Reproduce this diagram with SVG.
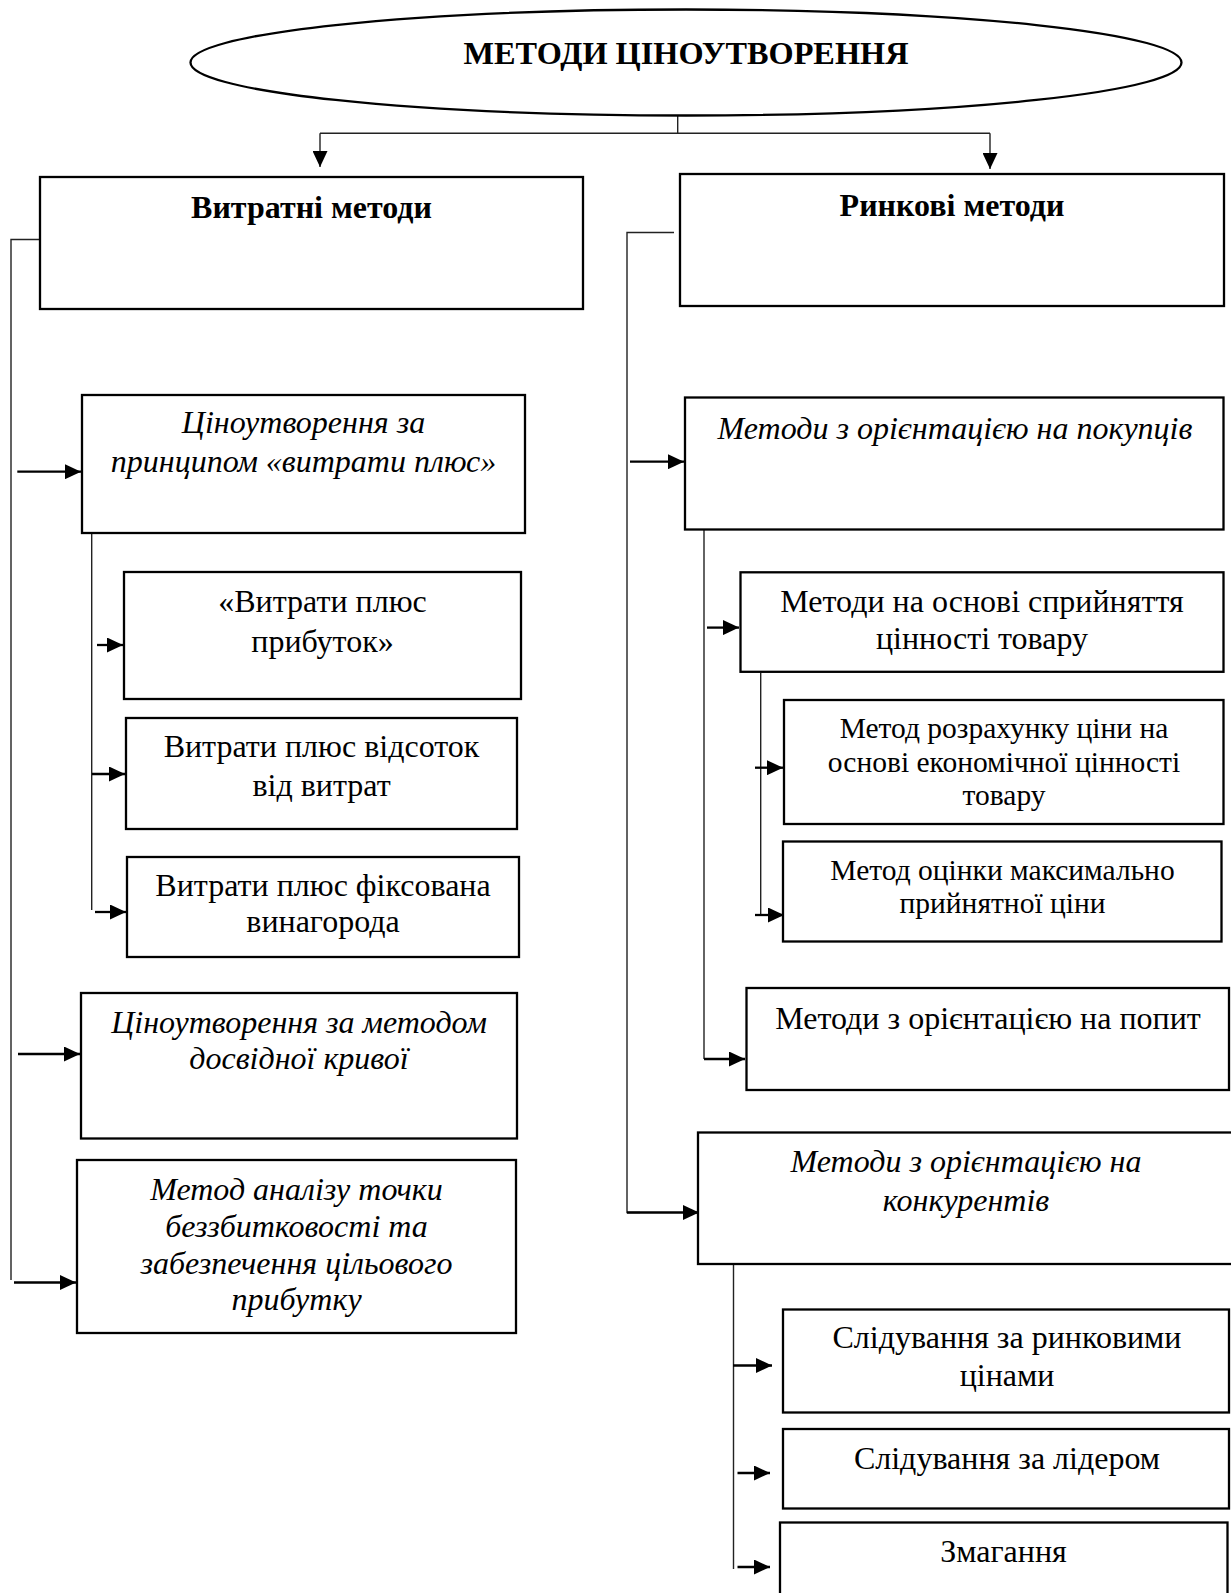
<svg xmlns="http://www.w3.org/2000/svg" width="1231" height="1593" viewBox="0 0 1231 1593">
<style>
  .box{fill:#fff;stroke:#000;stroke-width:2.3}
  .ln{fill:none;stroke:#222;stroke-width:1.4}
  .ar{fill:none;stroke:#000;stroke-width:2.3}
  .t{font-family:"Liberation Serif","Times New Roman",serif;font-size:32px;fill:#000;text-anchor:middle}
  .b{font-weight:bold}
  .i{font-style:italic}
  .s{font-size:29.5px}
  .ttl{font-size:32.3px}
</style>
<defs>
  <marker id="ah" viewBox="0 0 16 15" refX="16" refY="7.5" markerWidth="16" markerHeight="15" markerUnits="userSpaceOnUse" orient="auto">
    <path d="M0,0 L16,7.5 L0,15 z" fill="#000"/>
  </marker>
</defs>
<rect width="1231" height="1593" fill="#fff"/>

<g id="connectors">
  <path class="ln" d="M677.7,116 V133.3 M320,133.3 H990"/>
  <path class="ln" d="M320,133.3 V167" marker-end="url(#ah)"/>
  <path class="ln" d="M990,133.3 V169" marker-end="url(#ah)"/>
  <!-- left column -->
  <path class="ln" d="M48,239.5 H11 V1280"/>
  <path class="ar" d="M17.3,471.7 H81" marker-end="url(#ah)"/>
  <path class="ar" d="M18,1054 H80" marker-end="url(#ah)"/>
  <path class="ar" d="M14,1282.5 H76" marker-end="url(#ah)"/>
  <path class="ln" d="M91.7,533 V910"/>
  <path class="ar" d="M97,645 H123" marker-end="url(#ah)"/>
  <path class="ar" d="M92,774 H125" marker-end="url(#ah)"/>
  <path class="ar" d="M95,912 H126" marker-end="url(#ah)"/>
  <!-- right column -->
  <path class="ln" d="M674,232.5 H627 V1212.5 H640"/>
  <path class="ar" d="M627,1212.5 H699" marker-end="url(#ah)"/>
  <path class="ar" d="M630,461.7 H684" marker-end="url(#ah)"/>
  <path class="ln" d="M704,530 V1059"/>
  <path class="ar" d="M707,627.6 H739" marker-end="url(#ah)"/>
  <path class="ar" d="M704,1059 H745" marker-end="url(#ah)"/>
  <path class="ln" d="M760.7,673 V916"/>
  <path class="ar" d="M755,767.7 H783" marker-end="url(#ah)"/>
  <path class="ar" d="M755,915 H784" marker-end="url(#ah)"/>
  <path class="ln" d="M733.5,1264 V1569"/>
  <path class="ar" d="M733,1365.5 H772" marker-end="url(#ah)"/>
  <path class="ar" d="M737.5,1473 H770" marker-end="url(#ah)"/>
  <path class="ar" d="M737.5,1567 H770" marker-end="url(#ah)"/>
</g>

<g id="root">
  <ellipse cx="686" cy="62.5" rx="495.5" ry="53" fill="#fff" stroke="#000" stroke-width="2.3"/>
  <text class="t b ttl" x="686" y="64">МЕТОДИ ЦІНОУТВОРЕННЯ</text>
</g>

<g id="cost">
  <rect class="box" x="40" y="177" width="543" height="132"/>
  <text class="t b" x="311.5" y="218">Витратні методи</text>
</g>
<g id="market">
  <rect class="box" x="680" y="174" width="544" height="132"/>
  <text class="t b" x="952" y="216">Ринкові методи</text>
</g>

<g id="costplus">
  <rect class="box" x="82" y="395" width="443" height="138"/>
  <text class="t i" x="303.5" y="433">Ціноутворення за</text>
  <text class="t i" x="303.5" y="471.5">принципом «витрати плюс»</text>
</g>
<g id="cp-profit">
  <rect class="box" x="124" y="572" width="397" height="127"/>
  <text class="t" x="322.5" y="612">«Витрати плюс</text>
  <text class="t" x="322.5" y="651.5">прибуток»</text>
</g>
<g id="cp-percent">
  <rect class="box" x="126" y="718" width="391" height="111"/>
  <text class="t" x="321.5" y="757">Витрати плюс відсоток</text>
  <text class="t" x="321.5" y="795.5">від витрат</text>
</g>
<g id="cp-fixed">
  <rect class="box" x="127" y="857" width="392" height="100"/>
  <text class="t" x="323" y="895.5">Витрати плюс фіксована</text>
  <text class="t" x="323" y="931.5">винагорода</text>
</g>
<g id="experience">
  <rect class="box" x="81" y="993" width="436" height="145.5"/>
  <text class="t i" x="299" y="1033">Ціноутворення за методом</text>
  <text class="t i" x="299" y="1069">досвідної кривої</text>
</g>
<g id="breakeven">
  <rect class="box" x="77" y="1160" width="439" height="173"/>
  <text class="t i" x="296.5" y="1199.5">Метод аналізу точки</text>
  <text class="t i" x="296.5" y="1237">беззбитковості та</text>
  <text class="t i" x="296.5" y="1273.5">забезпечення цільового</text>
  <text class="t i" x="296.5" y="1310">прибутку</text>
</g>

<g id="buyers">
  <rect class="box" x="685" y="397.5" width="538.5" height="132"/>
  <text class="t i" x="955" y="438.5">Методи з орієнтацією на покупців</text>
</g>
<g id="perceived">
  <rect class="box" x="740.5" y="572.3" width="483" height="99.5"/>
  <text class="t" x="982" y="612.4">Методи на основі сприйняття</text>
  <text class="t" x="982" y="648.6">цінності товару</text>
</g>
<g id="economic">
  <rect class="box" x="784" y="700" width="439.5" height="124"/>
  <text class="t s" x="1004" y="738.3">Метод розрахунку ціни на</text>
  <text class="t s" x="1004" y="771.5">основі економічної цінності</text>
  <text class="t s" x="1004" y="805">товару</text>
</g>
<g id="maxprice">
  <rect class="box" x="783" y="841.5" width="438.5" height="100"/>
  <text class="t s" x="1002.5" y="879.5">Метод оцінки максимально</text>
  <text class="t s" x="1002.5" y="912.8">прийнятної ціни</text>
</g>
<g id="demand">
  <rect class="box" x="746.5" y="988" width="482.5" height="102"/>
  <text class="t" x="988" y="1028.7">Методи з орієнтацією на попит</text>
</g>
<g id="competitors">
  <rect class="box" x="698" y="1132.5" width="545" height="131.5"/>
  <text class="t i" x="966" y="1172">Методи з орієнтацією на</text>
  <text class="t i" x="966" y="1210.5">конкурентів</text>
</g>
<g id="market-follow">
  <rect class="box" x="783" y="1309.5" width="446" height="103"/>
  <text class="t" x="1007" y="1348">Слідування за ринковими</text>
  <text class="t" x="1007" y="1386.3">цінами</text>
</g>
<g id="leader">
  <rect class="box" x="783" y="1429" width="446" height="79.5"/>
  <text class="t" x="1007" y="1469">Слідування за лідером</text>
</g>
<g id="competition">
  <rect class="box" x="780" y="1522.5" width="447.5" height="100"/>
  <text class="t" x="1003.5" y="1562">Змагання</text>
</g>
</svg>
